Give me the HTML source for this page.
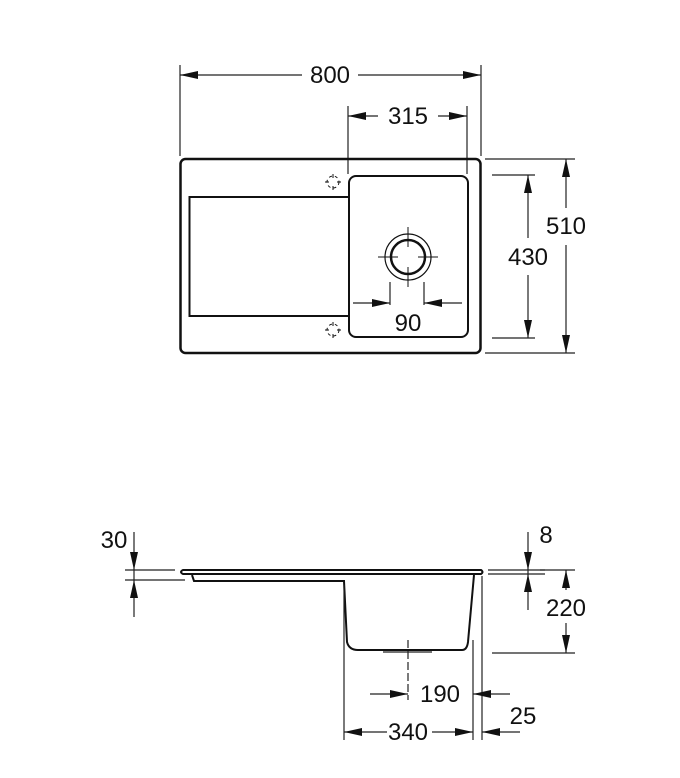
<!DOCTYPE html>
<html><head><meta charset="utf-8"><style>
html,body{margin:0;padding:0;background:#fff}
svg{display:block}
text{font-family:"Liberation Sans",Arial,sans-serif;font-size:24px;fill:#111;text-anchor:middle}
</style></head><body>
<svg width="680" height="778" viewBox="0 0 680 778" xmlns="http://www.w3.org/2000/svg">
<g stroke="#222" stroke-width="1.2" fill="none">
<line x1="180" y1="65" x2="180" y2="156"/><line x1="481" y1="65" x2="481" y2="156"/>
<line x1="180" y1="75" x2="302" y2="75"/><line x1="358" y1="75" x2="481" y2="75"/>
<line x1="348" y1="106" x2="348" y2="174"/><line x1="467" y1="106" x2="467" y2="174"/>
<line x1="348" y1="116" x2="378" y2="116"/><line x1="438" y1="116" x2="467" y2="116"/>
<line x1="485" y1="159" x2="575" y2="159"/><line x1="485" y1="353" x2="575" y2="353"/>
<line x1="566" y1="159" x2="566" y2="208"/><line x1="566" y1="245" x2="566" y2="353"/>
<line x1="492" y1="175" x2="535" y2="175"/><line x1="492" y1="338" x2="535" y2="338"/>
<line x1="528" y1="175" x2="528" y2="238"/><line x1="528" y1="275" x2="528" y2="338"/>
<line x1="353" y1="303" x2="390" y2="303"/><line x1="424" y1="303" x2="462" y2="303"/>
<line x1="390" y1="282" x2="390" y2="305"/><line x1="424" y1="282" x2="424" y2="305"/>
</g>
<g stroke="#111" fill="none">
<rect x="180.5" y="159" width="300" height="194" rx="5" stroke-width="2.5"/>
<path d="M349 197 H189.5 V316 H349" stroke-width="2"/>
<rect x="349" y="176" width="119" height="161" rx="7" stroke-width="2"/>
<circle cx="408" cy="257" r="23" stroke-width="1.2"/>
<circle cx="408" cy="257" r="17" stroke-width="2.5"/>
<g stroke-width="1"><line x1="378" y1="257" x2="398" y2="257"/><line x1="418" y1="257" x2="438" y2="257"/>
<line x1="408" y1="227" x2="408" y2="247"/><line x1="408" y1="267" x2="408" y2="287"/></g>
<g stroke-width="1">
<circle cx="333" cy="182" r="6" stroke-dasharray="3 3"/>
<line x1="325" y1="182" x2="329" y2="182"/><line x1="337" y1="182" x2="341" y2="182"/><line x1="333" y1="174" x2="333" y2="178"/><line x1="333" y1="186" x2="333" y2="190"/>
<circle cx="333" cy="330" r="6" stroke-dasharray="3 3"/>
<line x1="325" y1="330" x2="329" y2="330"/><line x1="337" y1="330" x2="341" y2="330"/><line x1="333" y1="322" x2="333" y2="326"/><line x1="333" y1="334" x2="333" y2="338"/>
</g>
</g>
<g fill="#111">
<polygon points="180,75 198,71 198,79"/><polygon points="481,75 463,71 463,79"/>
<polygon points="348,116 366,112 366,120"/><polygon points="467,116 449,112 449,120"/>
<polygon points="566,159 562,177 570,177"/><polygon points="566,353 562,335 570,335"/>
<polygon points="528,175 524,193 532,193"/><polygon points="528,338 524,320 532,320"/>
<polygon points="390,303 372,299 372,307"/><polygon points="424,303 442,299 442,307"/>
</g>
<text x="330" y="83">800</text><text x="408" y="124">315</text>
<text x="566" y="234">510</text><text x="528" y="265">430</text><text x="408" y="331">90</text>

<g stroke="#111" fill="none">
<path d="M183 570 H481 Q484 572 481 574 H183 Q179 572 183 570 Z" stroke-width="2"/>
<path d="M192 575 L194 581 H344 L347 642 Q349 650 358 650 H462 Q467 650 468 642 L474 575" stroke-width="2"/>
</g>
<g stroke="#222" stroke-width="1.2" fill="none">
<line x1="383" y1="652" x2="432" y2="652"/>
<line x1="408" y1="640" x2="408" y2="700" stroke-dasharray="8 3"/>
<line x1="344" y1="585" x2="344" y2="740"/><line x1="473" y1="640" x2="473" y2="740"/><line x1="482" y1="576" x2="482" y2="740"/>
<line x1="370" y1="694" x2="408" y2="694"/><line x1="473" y1="694" x2="510" y2="694"/>
<line x1="344" y1="732" x2="387" y2="732"/><line x1="432" y1="732" x2="473" y2="732"/>
<line x1="482" y1="732" x2="520" y2="732"/>
<line x1="488" y1="570" x2="545" y2="570"/><line x1="488" y1="574" x2="545" y2="574"/>
<line x1="528" y1="532" x2="528" y2="610"/>
<line x1="540" y1="570" x2="575" y2="570"/><line x1="492" y1="653" x2="575" y2="653"/>
<line x1="566" y1="570" x2="566" y2="590"/><line x1="566" y1="623" x2="566" y2="653"/>
<line x1="125" y1="570" x2="175" y2="570"/><line x1="125" y1="580" x2="185" y2="580"/>
<line x1="134" y1="532" x2="134" y2="617"/>
</g>
<g fill="#111">
<polygon points="408,694 390,690 390,698"/><polygon points="473,694 491,690 491,698"/>
<polygon points="344,732 362,728 362,736"/><polygon points="473,732 455,728 455,736"/>
<polygon points="482,732 500,728 500,736"/>
<polygon points="528,570 524,552 532,552"/><polygon points="528,574 524,592 532,592"/>
<polygon points="566,570 562,588 570,588"/><polygon points="566,653 562,635 570,635"/>
<polygon points="134,570 130,552 138,552"/><polygon points="134,580 130,598 138,598"/>
</g>
<text x="440" y="702">190</text><text x="408" y="740">340</text><text x="523" y="724">25</text>
<text x="546" y="543">8</text><text x="566" y="616">220</text><text x="114" y="548">30</text>
</svg>
</body></html>
